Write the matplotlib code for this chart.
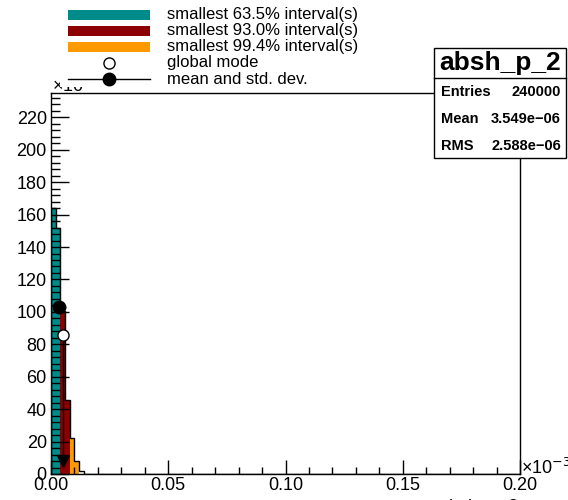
import matplotlib
matplotlib.use("Agg")
import matplotlib.pyplot as plt
from matplotlib.patches import Rectangle
from matplotlib.lines import Line2D
from matplotlib.ticker import MultipleLocator, FormatStrFormatter
import numpy as np

plt.rcParams['font.family'] = ['Liberation Sans', 'DejaVu Sans']

# histogram (x in units of 1e-3, y in units of 1e3)
bin_width = 0.002
x_max = 0.20
counts = [163.8, 152.0, 100.6, 45.7, 22.2, 8.2, 1.8, 0.3]
region = [0, 0, 1, 1, 2, 2, 3, 3]   # 0: 63.5%, 1: 93.0%, 2: 99.4%, 3: outside
region_colors = ['#008b8b', '#8b0000', '#ff9900', 'white']
legend_labels = ['smallest 63.5% interval(s)', 'smallest 93.0% interval(s)',
                 'smallest 99.4% interval(s)', 'global mode', 'mean and std. dev.']

mean_x, mean_y = 0.003549, 103.0
rms = 0.002588
mode_x, mode_y = 0.00525, 85.5
arrow_y = 8.0

stats_title = 'absh_p_2'
stats_rows = [('Entries', '240000'), ('Mean', '3.549e\u221206'), ('RMS', '2.588e\u221206')]

W, H = 568, 500
fig = plt.figure(figsize=(W / 100, H / 100), dpi=100)
fig.patch.set_facecolor('white')


def fx(px):
    return px / W


def fy(py):
    return 1 - py / H


ax = fig.add_axes([fx(51), fy(474), fx(520) - fx(51), fy(93) - fy(474)])

edges = np.arange(len(counts) + 1) * bin_width
ax.bar(edges[:-1], counts, width=bin_width, align='edge',
       color=[region_colors[r] for r in region], edgecolor='none', zorder=1)
ax.stairs(counts, edges, color='black', lw=1, zorder=2)
ax.plot([edges[-1], x_max], [0, 0], color='black', lw=1)

# mode arrow and markers
ax.plot([mode_x, mode_x], [mode_y - 4, arrow_y], color='black', lw=1, zorder=3)
ax.plot(mode_x, arrow_y, marker='v', color='black', ms=9, zorder=4)
ax.plot(mode_x, mode_y, marker='o', mfc='white', mec='black', ms=8, mew=1, zorder=4)
ax.plot([mean_x - rms, mean_x + rms], [mean_y, mean_y], color='black', lw=1, zorder=3)
ax.plot(mean_x, mean_y, marker='o', color='black', ms=9, zorder=4)

ax.set_xlim(0, x_max)
ax.set_ylim(0, 235)
ax.xaxis.set_major_locator(MultipleLocator(0.05))
ax.xaxis.set_minor_locator(MultipleLocator(0.01))
ax.yaxis.set_major_locator(MultipleLocator(20))
ax.yaxis.set_minor_locator(MultipleLocator(4))
ax.xaxis.set_major_formatter(FormatStrFormatter('%.2f'))
ax.tick_params(which='both', direction='in', top=False, right=False,
               labelsize=13, width=1)
ax.tick_params(axis='y', which='major', length=13, pad=3)
ax.tick_params(axis='y', which='minor', length=6.5)
ax.tick_params(axis='x', which='major', length=10, pad=2)
ax.tick_params(axis='x', which='minor', length=5)
for s in ax.spines.values():
    s.set_linewidth(1)

fig.text(fx(521), fy(474), '\u00d710$^{-3}$', fontsize=13, ha='left', va='baseline')
fig.text(fx(52), fy(92), '\u00d710$^{3}$', fontsize=13, ha='left', va='baseline')
fig.text(fx(519), fy(512), 'absh_p_2', fontsize=13, ha='right', va='baseline')

# legend (white pad covers the axis multiplier, as in the original)
fig.patches.append(Rectangle((fx(60), fy(87)), fx(430) - fx(60), fy(4) - fy(87),
                             transform=fig.transFigure, facecolor='white',
                             edgecolor='none', zorder=5))
rows_y = [15, 31, 47, 63, 79]
for i in range(3):
    fig.patches.append(Rectangle((fx(68), fy(rows_y[i] + 5)), fx(150) - fx(68), fy(0) - fy(10),
                                 transform=fig.transFigure, facecolor=region_colors[i],
                                 edgecolor='none', zorder=6))
fig.lines.append(Line2D([fx(109)], [fy(rows_y[3])], marker='o', mfc='white', mec='black',
                        ms=8, mew=1, transform=fig.transFigure, zorder=6))
fig.lines.append(Line2D([fx(68), fx(150)], [fy(rows_y[4])] * 2, color='black', lw=1,
                        transform=fig.transFigure, zorder=6))
fig.lines.append(Line2D([fx(109)], [fy(rows_y[4])], marker='o', color='black', ms=9,
                        transform=fig.transFigure, zorder=6))
for y, lab in zip(rows_y, legend_labels):
    fig.text(fx(167), fy(y), lab, fontsize=12, ha='left', va='center', zorder=7)

# stats box
fig.patches.append(Rectangle((fx(434), fy(158)), fx(566) - fx(434), fy(48) - fy(158),
                             transform=fig.transFigure, facecolor='white',
                             edgecolor='black', lw=1, zorder=5))
fig.lines.append(Line2D([fx(434), fx(566)], [fy(78)] * 2, color='black', lw=1,
                        transform=fig.transFigure, zorder=6))
fig.text(fx(500), fy(63), stats_title, fontsize=19, fontweight='bold',
         ha='center', va='center', zorder=7)
for y, (k, v) in zip([92, 119, 146], stats_rows):
    fig.text(fx(441), fy(y), k, fontsize=10.5, fontweight='bold', ha='left', va='center', zorder=7)
    fig.text(fx(561), fy(y), v, fontsize=10.5, fontweight='bold', ha='right', va='center', zorder=7)

fig.savefig('out.png', dpi=100)
